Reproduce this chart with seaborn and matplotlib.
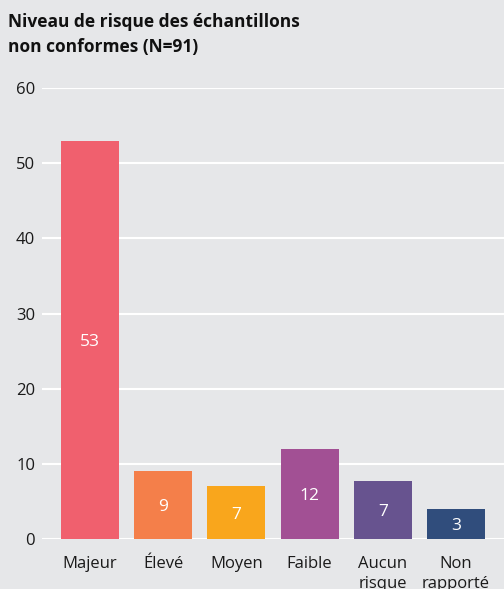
import matplotlib
matplotlib.use("Agg")
import matplotlib.pyplot as plt
import seaborn as sns
import pandas as pd

categories = ["Majeur", "Élevé", "Moyen", "Faible", "Aucun\nrisque", "Non\nrapporté"]
bar_heights = [53, 9, 7, 12, 7.7, 4]
bar_labels = ["53", "9", "7", "12", "7", "3"]
colors = ["#f0606e", "#f47f4a", "#f9a61c", "#a25094", "#67538f", "#304d7c"]
yticks = [0, 10, 20, 30, 40, 50, 60]
title = "Niveau de risque des échantillons\nnon conformes (N=91)"

sns.set_theme(style="white")
plt.rcParams["font.family"] = ["Open Sans", "DejaVu Sans"]

bg = "#e6e7e9"
fig = plt.figure(figsize=(5.04, 5.89), dpi=100, facecolor=bg)
ax = fig.add_axes([42/504, 50/589, 1 - 42/504, (539-88)/589])
ax.set_facecolor(bg)

df = pd.DataFrame({"cat": categories, "val": bar_heights})
sns.barplot(data=df, x="cat", y="val", hue="cat", palette=colors, legend=False,
            width=0.79, saturation=1, linewidth=0, edgecolor="none", ax=ax, zorder=3)

for i, (h, lab) in enumerate(zip(bar_heights, bar_labels)):
    ax.text(i, h / 2, lab, ha="center", va="center_baseline", color="white",
            fontsize=12.5, zorder=4)

ax.set_xlim(-0.656, 5.656)
ax.set_ylim(0, 60)
ax.set_yticks(yticks)
ax.yaxis.grid(True, color="white", linewidth=1.5, zorder=0)
ax.set_axisbelow(True)
for s in ax.spines.values():
    s.set_visible(False)
ax.tick_params(axis="both", length=0, labelsize=12, colors="#1a1a1a")
ax.tick_params(axis="x", pad=12)
ax.tick_params(axis="y", pad=5)
ax.set_xlabel("")
ax.set_ylabel("")
for lbl in ax.get_xticklabels():
    lbl.set_linespacing(1.35)

fig.text(8/504, 1 - 13/589, title, ha="left", va="top", fontsize=12.5, fontweight="bold",
         color="#111111", linespacing=1.5)

fig.savefig("out.png", dpi=100, facecolor=bg)
